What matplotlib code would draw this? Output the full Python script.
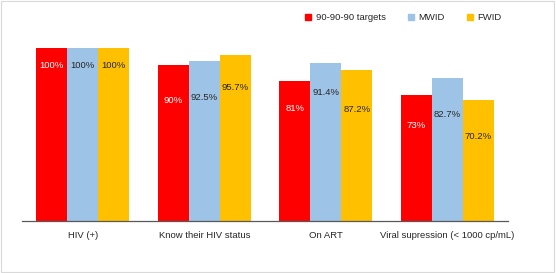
import numpy as np
import matplotlib.pyplot as plt
from matplotlib.lines import Line2D

categories = ["HIV (+)", "Know their HIV status", "On ART", "Viral supression (< 1000 cp/mL)"]
series_names = ["90-90-90 targets", "MWID", "FWID"]
targets = [100, 90, 81, 73]
mwid = [100, 92.5, 91.4, 82.7]
fwid = [100, 95.7, 87.2, 70.2]
value_labels = [
    ["100%", "90%", "81%", "73%"],
    ["100%", "92.5%", "91.4%", "82.7%"],
    ["100%", "95.7%", "87.2%", "70.2%"],
]

COLORS = ["#FF0000", "#9DC3E6", "#FFC000"]
TEXT_COLORS = ["white", "#262626", "#262626"]
# how far (px) below the bar top each label sits, per series
LABEL_DROP = [[17, 35, 28, 31], [17, 36, 30, 37], [17, 32, 39, 37]]

plt.rcParams["font.family"] = ["Liberation Sans", "DejaVu Sans"]

fig = plt.figure(figsize=(5.56, 2.73), dpi=100)
ax = fig.add_axes([0.0396, 0.1905, 0.8741, 0.6335])

x = np.arange(len(categories))
width = 0.255
series = [targets, mwid, fwid]
for i, vals in enumerate(series):
    pos = x + (i - 1) * width
    ax.bar(pos, vals, width=width, color=COLORS[i], edgecolor="none")
    for j, v in enumerate(vals):
        ax.annotate(value_labels[i][j], (pos[j], v),
                    xytext=(0, -LABEL_DROP[i][j] * 0.72), textcoords="offset points",
                    ha="center", va="center", fontsize=6.8, color=TEXT_COLORS[i])

ax.set_xlim(-0.5, len(categories) - 0.5)
ax.set_ylim(0, 100)
ax.set_xticks(x)
ax.set_xticklabels(categories, fontsize=6.8, color="#262626")
ax.tick_params(axis="x", length=0, pad=7)
ax.set_yticks([])
for s in ["top", "right", "left"]:
    ax.spines[s].set_visible(False)
ax.spines["bottom"].set_color("#595959")
ax.spines["bottom"].set_linewidth(0.9)

handles = [Line2D([], [], marker="s", linestyle="none", markersize=5,
                  markerfacecolor=c, markeredgecolor=c) for c in COLORS]
fig.legend(handles, series_names, loc="center right", bbox_to_anchor=(0.917, 0.935),
           ncol=3, frameon=False, fontsize=6.8, handletextpad=0.15, handlelength=1.2,
           columnspacing=2.1, labelcolor="#262626")

border = plt.Rectangle((0.002, 0.004), 0.995, 0.992, transform=fig.transFigure,
                       fill=False, edgecolor="#D9D9D9", linewidth=0.8)
fig.patches.append(border)

fig.savefig("out.png", dpi=100)
